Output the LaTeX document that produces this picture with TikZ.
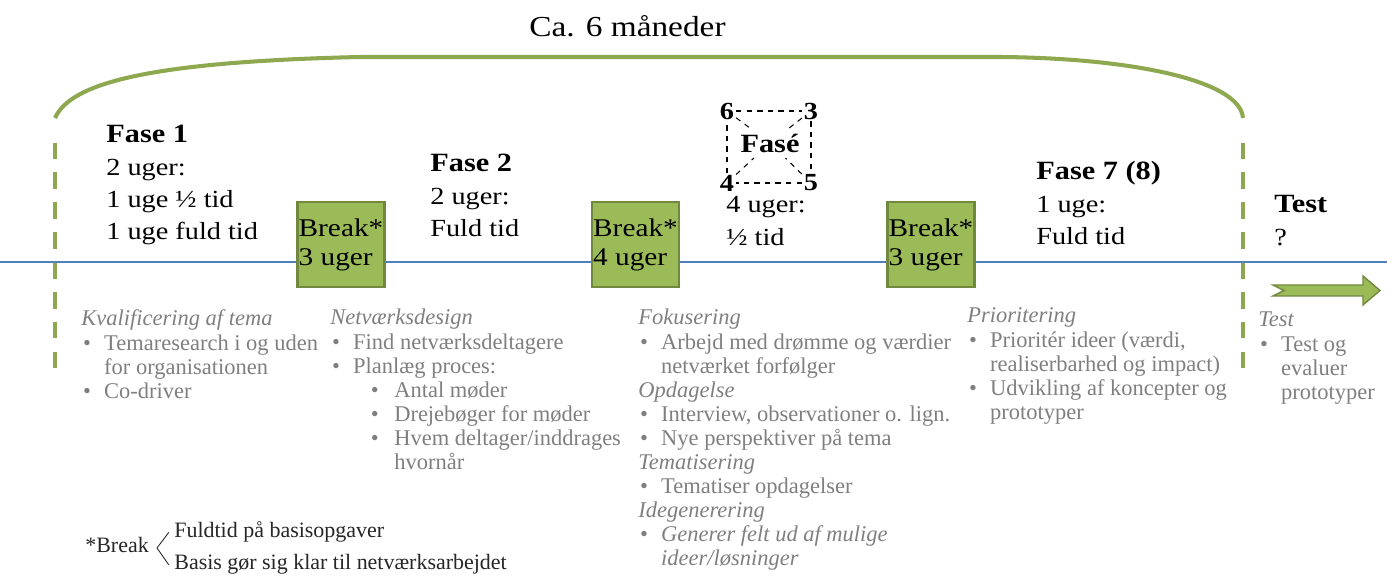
\documentclass[tikz,border=0pt]{standalone}
\usepackage{fontspec}
\setmainfont{Liberation Serif}
\newfontfamily\bigserif{Liberation Serif}[FakeStretch=1.15]
\usepackage{tikz}
\usetikzlibrary{calc}
\definecolor{archgreen}{HTML}{8DA84E}
\definecolor{boxgreen}{HTML}{9BBB59}
\definecolor{boxedge}{HTML}{71893F}
\definecolor{lineblue}{HTML}{4F81BD}
\definecolor{notegray}{HTML}{7F7F7F}
\definecolor{notedark}{HTML}{262626}
\newcommand{\blt}{\makebox[13pt][l]{\hspace{1pt}\textbullet}}
\newcommand{\cnt}{\hspace*{13pt}}
\newcommand{\sblt}{\hspace*{23pt}\makebox[13.4pt][l]{\textbullet}}
\newcommand{\scnt}{\hspace*{36.4pt}}

\begin{document}
\begin{tikzpicture}[x=0.02cm,y=-0.02cm,
  bigtext/.style={font=\bigserif\fontsize{14}{18.4}\selectfont,anchor=base west,inner sep=0pt},
  note/.style={font=\fontsize{12.8}{13.7}\selectfont,text=notegray,anchor=base west,inner sep=0pt},
  footnote/.style={font=\fontsize{12.5}{14}\selectfont,text=notedark,anchor=base west,inner sep=0pt},
  breakbox/.style={draw=boxedge,fill=boxgreen,line width=1.2pt,minimum width=49.5pt,minimum height=48.4pt,inner sep=0pt,align=left,font=\bigserif\fontsize{14.5}{16.5}\selectfont},
  corner/.style={font=\bigserif\bfseries\fontsize{14}{14}\selectfont,inner sep=1pt},
  boxdash/.style={dashed,line width=0.6pt},
  arch/.style={draw=archgreen,line width=2.3pt},
  archdash/.style={draw=archgreen,line width=1.8pt,dash pattern=on 9.5pt off 7.5pt},
  timeline/.style={draw=lineblue,line width=1.7pt}]
\useasboundingbox (0,0) rectangle (1387,577);

\node[bigtext,font=\bigserif\fontsize{16.5}{18}\selectfont] (span) at (529,37) {Ca. 6 måneder};
\coordinate (archL) at (55,118);
\coordinate (archR) at (1243,118);
\draw[arch] (archL) .. controls (70,85) and (140,62) .. (360,57) -- (1000,57) .. controls (1130,58) and (1240,80) .. (archR);
\coordinate (dashL) at (55,372);
\coordinate (dashR) at (1243,370);
\draw[archdash] ([yshift=-14pt]archL) -- (dashL);
\draw[archdash] ([yshift=-14pt]archR) -- (dashR);

\coordinate (tlL) at (0,262);
\coordinate (tlR) at (1387,262);
\draw[timeline] (tlL) -- (tlR);
\node[breakbox] (break1) at (341,244.5) {Break*\\3 uger};
\node[breakbox] (break2) at (635.5,244.5) {Break*\\4 uger};
\node[breakbox] (break3) at (931,244.5) {Break*\\3 uger};

\node[bigtext] (fase1) at (106,143) {\begin{tabular}[t]{@{}l@{}}{\bfseries\fontsize{15}{18.4}\selectfont Fase 1}\\2 uger:\\1 uge ½ tid\\1 uge fuld tid\end{tabular}};
\node[bigtext] (fase2) at (430,172) {\begin{tabular}[t]{@{}l@{}}{\bfseries\fontsize{15}{18.4}\selectfont Fase 2}\\2 uger:\\Fuld tid\end{tabular}};
\node[corner] (n6) at (727,111) {6};
\node[corner] (n3) at (811,111) {3};
\node[corner] (n4) at (727,183) {4};
\node[corner] (n5) at (811,183) {5};
\node[corner,font=\bigserif\bfseries\fontsize{15}{15}\selectfont] (fase) at (770,143) {Fasé};
\draw[boxdash] (n6) -- (n3) -- (n5) -- (n4) -- (n6);
\draw[boxdash,shorten >=3pt] (n6) -- (fase);
\draw[boxdash,shorten >=3pt] (n3) -- (fase);
\draw[boxdash,shorten >=3pt] (n4) -- (fase);
\draw[boxdash,shorten >=3pt] (n5) -- (fase);
\node[bigtext] (fase36) at (726,213) {\begin{tabular}[t]{@{}l@{}}4 uger:\\½ tid\end{tabular}};
\node[bigtext] (fase7) at (1036,180) {\begin{tabular}[t]{@{}l@{}}{\bfseries\fontsize{15}{18.4}\selectfont Fase 7 (8)}\\1 uge:\\Fuld tid\end{tabular}};
\node[bigtext] (test) at (1274,213) {\begin{tabular}[t]{@{}l@{}}{\bfseries\fontsize{15}{18.4}\selectfont Test}\\?\end{tabular}};
\filldraw[draw=boxedge,fill=boxgreen,line width=0.8pt] (1273,285) -- (1363,285) -- (1363,276) -- (1380,290.5) -- (1363,305) -- (1363,296) -- (1273,296) -- (1284,290.5) -- cycle;

\node[note] (kval) at (81,326) {\begin{tabular}[t]{@{}l@{}}\textit{Kvalificering af tema}\\\blt Temaresearch i og uden\\\cnt for organisationen\\\blt Co-driver\end{tabular}};
\node[note] (netv) at (330,325) {\begin{tabular}[t]{@{}l@{}}\textit{Netværksdesign}\\\blt Find netværksdeltagere\\\blt Planlæg proces:\\\sblt Antal møder\\\sblt Drejebøger for møder\\\sblt Hvem deltager/inddrages\\\scnt hvornår\end{tabular}};
\node[note] (foku) at (638,325) {\begin{tabular}[t]{@{}l@{}}\textit{Fokusering}\\\blt Arbejd med drømme og værdier\\\cnt netværket forfølger\\\textit{Opdagelse}\\\blt Interview, observationer o. lign.\\\blt Nye perspektiver på tema\\\textit{Tematisering}\\\blt Tematiser opdagelser\\\textit{Idegenerering}\\\blt \textit{Generer felt ud af mulige}\\\cnt\textit{ideer/løsninger}\end{tabular}};
\node[note] (prio) at (967,323) {\begin{tabular}[t]{@{}l@{}}\textit{Prioritering}\\\blt Prioritér ideer (værdi,\\\cnt realiserbarhed og impact)\\\blt Udvikling af koncepter og\\\cnt prototyper\end{tabular}};
\node[note] (testnote) at (1258,327) {\begin{tabular}[t]{@{}l@{}}\textit{Test}\\\blt Test og\\\cnt evaluer\\\cnt prototyper\end{tabular}};

\node[footnote] (brk) at (85,553) {*Break};
\node[footnote] (fuld) at (174,538) {Fuldtid på basisopgaver};
\node[footnote] (basis) at (174,570) {Basis gør sig klar til netværksarbejdet};
\coordinate (vtx) at (157,548);
\draw[notedark,line width=0.5pt] ([xshift=-3pt]fuld.west) -- (vtx) -- ([xshift=-3pt]basis.west);
\end{tikzpicture}
\end{document}
